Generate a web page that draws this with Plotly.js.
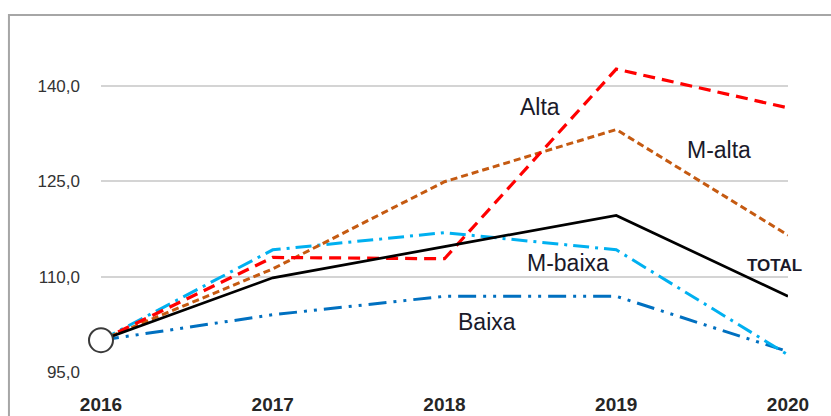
<!DOCTYPE html>
<html>
<head>
<meta charset="utf-8">
<script src="https://cdn.plot.ly/plotly-3.0.1.min.js"></script>
<style>html,body{margin:0;padding:0;background:#fff;}#chart{width:831px;height:416px;}</style>
</head>
<body>
<div id="chart"></div>
<script>
var years = [2016, 2017, 2018, 2019, 2020];
var alta   = [100, 113.0, 112.8, 142.6, 136.5];
var mAlta  = [100, 111.2, 124.9, 133.1, 116.5];
var total  = [100, 109.8, 114.7, 119.6, 106.9];
var mBaixa = [100, 114.2, 116.9, 114.2, 97.7];
var baixa  = [100, 104.0, 106.9, 106.9, 98.2];
var yTicks = [95, 110, 125, 140];
var yTickText = ["95,0", "110,0", "125,0", "140,0"];
var seriesLabels = ["Alta", "M-alta", "M-baixa", "Baixa", "TOTAL"];

var traces = [
  {x: years, y: baixa, mode: 'lines', line: {color: '#0070C0', width: 3, dash: '18px,7px,3px,7px,3px,7px'}},
  {x: years, y: mBaixa, mode: 'lines', line: {color: '#00B0F0', width: 3, dash: '16px,6px,3px,6px'}},
  {x: years, y: mAlta, mode: 'lines', line: {color: '#C55A11', width: 3, dash: '7px,4px'}},
  {x: years, y: alta, mode: 'lines', line: {color: '#FF0000', width: 3.2, dash: '12px,7px'}},
  {x: years, y: total, mode: 'lines', line: {color: '#000000', width: 2.7}},
  {x: [years[0]], y: [total[0]], mode: 'markers', cliponaxis: false,
   marker: {size: 24, color: '#ffffff', line: {color: '#3a3a3a', width: 2}}}
];

var lblFont = {family: 'Liberation Sans, Arial, sans-serif', size: 23, color: '#1a1a2a'};
var annotations = [
  {x: 2018.556, y: 136.6, text: seriesLabels[0], showarrow: false, font: lblFont},
  {x: 2019.60, y: 129.9, text: seriesLabels[1], showarrow: false, font: lblFont},
  {x: 2018.72, y: 112.2, text: seriesLabels[2], showarrow: false, font: lblFont},
  {x: 2018.25, y: 102.9, text: seriesLabels[3], showarrow: false, font: lblFont},
  {x: 2019.92, y: 111.7, text: '<b>' + seriesLabels[4] + '</b>', showarrow: false,
   font: {family: 'Liberation Sans, Arial, sans-serif', size: 17, color: '#1a1a2a'}}
];

var layout = {
  width: 831, height: 416,
  margin: {l: 101, r: 43, t: 22, b: 44},
  paper_bgcolor: '#ffffff', plot_bgcolor: '#ffffff',
  showlegend: false,
  xaxis: {
    range: [2016, 2020], tickvals: years, ticktext: years.map(String),
    showgrid: false, zeroline: false, showline: false, ticks: '',
    ticklabelstandoff: 19,
    tickfont: {family: 'Liberation Sans, Arial, sans-serif', size: 19, color: '#262626', weight: 'bold'}
  },
  yaxis: {
    range: [95, 150], tickvals: yTicks, ticktext: yTickText,
    showgrid: true, gridcolor: '#d4d4d4', gridwidth: 2,
    zeroline: false, showline: false, ticks: '',
    ticklabelstandoff: 20,
    tickfont: {family: 'Liberation Sans, Arial, sans-serif', size: 17, color: '#333333'}
  },
  annotations: annotations,
  shapes: [{
    type: 'rect', xref: 'paper', yref: 'paper',
    x0: -0.134, x1: 1.2, y0: -0.4, y1: 1.02,
    line: {color: '#a6a6a6', width: 2}, fillcolor: 'rgba(0,0,0,0)', layer: 'below'
  }]
};

Plotly.newPlot('chart', traces, layout, {displayModeBar: false, staticPlot: true});
</script>
</body>
</html>
